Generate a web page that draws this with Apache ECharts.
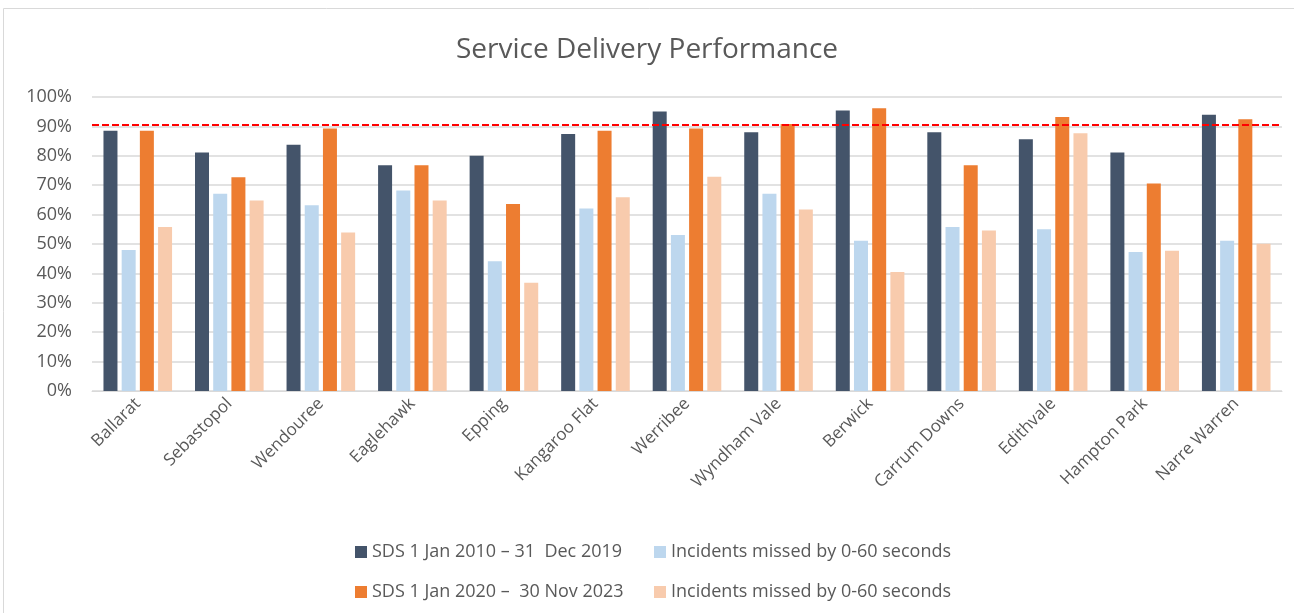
<!DOCTYPE html>
<html>
<head>
<meta charset="utf-8">
<script src="https://cdn.jsdelivr.net/npm/echarts@6/dist/echarts.min.js"></script>
<style>
  html, body { margin: 0; padding: 0; background: #fff; }
  #main { width: 1294px; height: 613px; }
</style>
</head>
<body>
<div id="main"></div>
<script>
// stations along the x axis
var stations = ['Ballarat', 'Sebastopol', 'Wendouree', 'Eaglehawk', 'Epping', 'Kangaroo Flat',
  'Werribee', 'Wyndham Vale', 'Berwick', 'Carrum Downs', 'Edithvale', 'Hampton Park', 'Narre Warren'];

// values in percent
var sds2010 = [88.5, 81.1, 83.8, 76.8, 80.0, 87.4, 95.1, 88.0, 95.4, 88.0, 85.6, 81.1, 94.0];
var missed2010 = [48.0, 67.1, 63.2, 68.2, 44.1, 62.1, 53.1, 67.1, 51.1, 55.8, 55.0, 47.3, 51.1];
var sds2020 = [88.5, 72.7, 89.3, 76.8, 63.6, 88.5, 89.3, 90.8, 96.2, 76.8, 93.2, 70.6, 92.4];
var missed2020 = [55.8, 64.8, 53.9, 64.8, 36.8, 65.9, 72.9, 61.7, 40.5, 54.6, 87.7, 47.7, 50.1];

var target = 90.6;

var seriesNames = ['SDS 1 Jan 2010 \u2013 31  Dec 2019', 'Incidents missed by 0-60 seconds',
  'SDS 1 Jan 2020 \u2013  30 Nov 2023', 'Incidents missed by 0-60 seconds '];
var colors = ['#44546A', '#BDD7EE', '#ED7D31', '#F8CBAD'];

var font = "'Open Sans', sans-serif";

var chartDom = document.getElementById('main');
var myChart = echarts.init(chartDom);

function legendAt(name, left, top) {
  return {
    data: [name],
    left: left,
    top: top,
    itemWidth: 12,
    itemHeight: 12,
    icon: 'rect',
    itemGap: 4,
    textStyle: { color: '#595959', fontSize: 18, fontFamily: font }
  };
}

var option = {
  color: colors,
  animation: false,
  title: {
    text: 'Service Delivery Performance',
    left: 'center',
    top: 31,
    textStyle: { color: '#595959', fontSize: 28, fontWeight: 'normal', fontFamily: font }
  },
  graphic: [{
    type: 'rect',
    shape: { x: 3.5, y: 8.5, width: 1300, height: 620 },
    style: { fill: 'none', stroke: '#D9D9D9', lineWidth: 1 },
    silent: true
  }],
  legend: [
    legendAt(seriesNames[0], 350, 538),
    legendAt(seriesNames[1], 649, 538),
    legendAt(seriesNames[2], 350, 578),
    legendAt(seriesNames[3], 649, 578)
  ],
  grid: { left: 92, right: 12, top: 97, bottom: 222 },
  xAxis: {
    type: 'category',
    data: stations,
    axisLine: { lineStyle: { color: '#D9D9D9', width: 1 } },
    axisTick: { show: false },
    axisLabel: { rotate: 45, color: '#595959', fontSize: 17, fontFamily: font, margin: 10, interval: 0 }
  },
  yAxis: {
    type: 'value',
    min: 0,
    max: 100,
    interval: 10,
    axisLine: { show: false },
    axisTick: { show: false },
    axisLabel: { formatter: '{value}%', color: '#595959', fontSize: 18, fontFamily: font, margin: 20 },
    splitLine: { lineStyle: { color: '#D9D9D9', width: 1.5 } }
  },
  series: [
    {
      name: seriesNames[0], type: 'bar', data: sds2010, barWidth: 14, barGap: '30%',
      markLine: {
        symbol: 'none',
        silent: true,
        label: { show: false },
        lineStyle: { color: '#FF0000', type: [7, 3], width: 2 },
        data: [{ yAxis: target }]
      }
    },
    { name: seriesNames[1], type: 'bar', data: missed2010, barWidth: 14, barGap: '30%' },
    { name: seriesNames[2], type: 'bar', data: sds2020, barWidth: 14, barGap: '30%' },
    { name: seriesNames[3], type: 'bar', data: missed2020, barWidth: 14, barGap: '30%' }
  ]
};

option && myChart.setOption(option);
</script>
</body>
</html>
